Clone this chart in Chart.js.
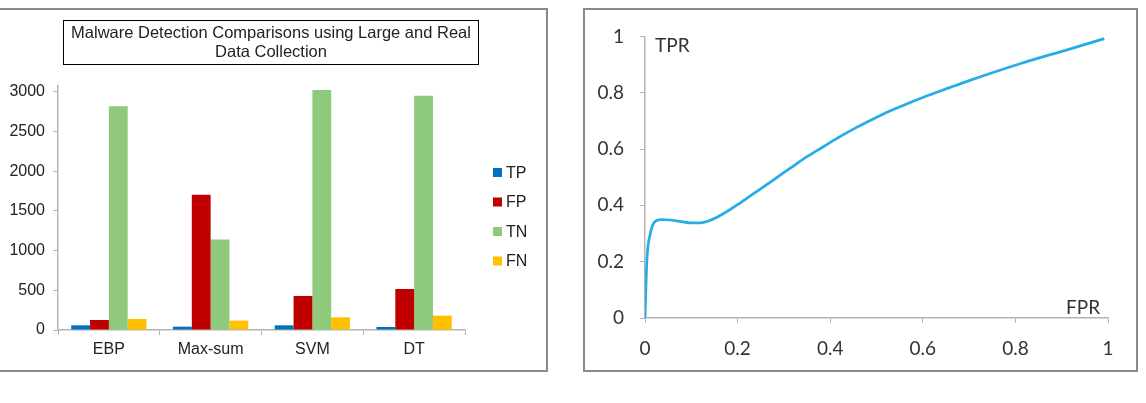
<!DOCTYPE html>
<html>
<head>
<meta charset="utf-8">
<script src="https://cdn.jsdelivr.net/npm/chart.js@4.4.0/dist/chart.umd.min.js"></script>
<style>
  html, body { margin: 0; padding: 0; background: #fff; }
  body { width: 1146px; height: 403px; position: relative; overflow: hidden; }
  .panel { position: absolute; border: 2px solid #8a8a8a; box-sizing: border-box; }
  #leftPanel { left: -2px; top: 8px; width: 550px; height: 364px; }
  #rightPanel { left: 583px; top: 8px; width: 555px; height: 364px; }
  #leftWrap { position: absolute; left: 0; top: 0; width: 548px; height: 372px; }
  #rightWrap { position: absolute; left: 584px; top: 9px; width: 552px; height: 361px; }
  .title-box {
    position: absolute; left: 63px; top: 20px; width: 416px; height: 45px;
    border: 1.5px solid #000; box-sizing: border-box; padding-top: 2px;
    font: 16.5px "Liberation Sans", Arial, sans-serif; line-height: 19px;
    text-align: center; color: #222;
  }
  .axis-note { position: absolute; font: 19px Lato, sans-serif; line-height: 19px; color: #333; }
</style>
</head>
<body>
<div class="panel" id="leftPanel"></div>
<div class="panel" id="rightPanel"></div>
<div id="leftWrap"><canvas id="barCanvas"></canvas></div>
<div id="rightWrap"><canvas id="rocCanvas"></canvas></div>
<div class="title-box">Malware Detection Comparisons using Large and Real<br>Data Collection</div>
<div class="axis-note" style="left:655px;top:35px;">TPR</div>
<div class="axis-note" style="left:1066px;top:297px;">FPR</div>

<script>
// left chart: counts per method
const categories = ['EBP', 'Max-sum', 'SVM', 'DT'];
const tpValues = [59, 42, 59, 38];
const fpValues = [126, 1706, 429, 517];
const tnValues = [2821, 1139, 3026, 2951];
const fnValues = [139, 118, 160, 181];
const countTicks = [0, 500, 1000, 1500, 2000, 2500, 3000];

// right chart: ROC curve
const fprValues = [0, 0.004, 0.011, 0.022, 0.036, 0.054, 0.075, 0.097, 0.12, 0.14, 0.169, 0.205,
  0.241, 0.277, 0.313, 0.349, 0.385, 0.421, 0.457, 0.493, 0.529, 0.565, 0.60, 0.658, 0.70,
  0.81, 0.917, 0.992];
const tprValues = [0, 0.202, 0.296, 0.343, 0.349, 0.348, 0.343, 0.338, 0.338, 0.346, 0.370, 0.408,
  0.449, 0.490, 0.531, 0.572, 0.608, 0.644, 0.677, 0.707, 0.735, 0.760, 0.783, 0.818, 0.843,
  0.903, 0.955, 0.992];
const rateTicks = [0, 0.2, 0.4, 0.6, 0.8, 1];

const ARIAL = '"Liberation Sans", Arial, sans-serif';
const AXIS_GREY = '#b4b4b4';

// legend on the right of the bar chart, Excel style
const sideLegend = {
  id: 'sideLegend',
  afterDraw(chart) {
    const { ctx, chartArea } = chart;
    const x = chartArea.right + 28;
    ctx.save();
    ctx.font = '16px ' + ARIAL;
    ctx.textBaseline = 'middle';
    chart.data.datasets.forEach((ds, i) => {
      const y = chartArea.top + 86.5 + i * 29.5;
      ctx.fillStyle = ds.backgroundColor;
      ctx.fillRect(x, y - 4.5, 9, 9);
      ctx.fillStyle = '#222';
      ctx.fillText(ds.label, x + 13, y + 1);
    });
    ctx.restore();
  }
};

const barChart = new Chart(document.getElementById('barCanvas'), {
  type: 'bar',
  data: {
    labels: categories,
    datasets: [
      { label: 'TP', data: tpValues, backgroundColor: '#0070c0' },
      { label: 'FP', data: fpValues, backgroundColor: '#c00000' },
      { label: 'TN', data: tnValues, backgroundColor: '#8fc97b' },
      { label: 'FN', data: fnValues, backgroundColor: '#ffc000' }
    ]
  },
  options: {
    responsive: true,
    maintainAspectRatio: false,
    animation: false,
    datasets: { bar: { categoryPercentage: 0.74, barPercentage: 1.0 } },
    layout: { padding: { top: 86, right: 83, left: 0, bottom: 0 } },
    plugins: { legend: { display: false }, tooltip: { enabled: false } },
    scales: {
      x: {
        afterFit: s => { s.height = 42; },
        grid: { drawOnChartArea: false, tickLength: 5, color: AXIS_GREY },
        border: { color: AXIS_GREY, width: 1.5 },
        ticks: { color: '#222', padding: 5, font: { family: ARIAL, size: 16 } }
      },
      y: {
        min: 0,
        max: 3075,
        afterFit: s => { s.width = 58; },
        afterBuildTicks: s => { s.ticks = countTicks.map(v => ({ value: v })); },
        grid: { drawOnChartArea: false, tickLength: 5, color: AXIS_GREY },
        border: { color: AXIS_GREY, width: 1.5 },
        ticks: {
          color: '#222', padding: 8, font: { family: ARIAL, size: 16 },
          callback: v => String(v)
        }
      }
    }
  },
  plugins: [sideLegend]
});

const rocChart = new Chart(document.getElementById('rocCanvas'), {
  type: 'line',
  data: {
    datasets: [{
      label: 'ROC',
      data: fprValues.map((f, i) => ({ x: f, y: tprValues[i] })),
      borderColor: '#27ade6',
      borderWidth: 2.75,
      pointRadius: 0,
      fill: false,
      cubicInterpolationMode: 'monotone'
    }]
  },
  options: {
    responsive: true,
    maintainAspectRatio: false,
    animation: false,
    layout: { padding: { top: 24, right: 28, left: 0, bottom: 0 } },
    plugins: { legend: { display: false }, tooltip: { enabled: false } },
    scales: {
      x: {
        type: 'linear',
        min: 0,
        max: 1,
        afterFit: s => { s.height = 52; },
        afterBuildTicks: s => { s.ticks = rateTicks.map(v => ({ value: v })); },
        grid: { drawOnChartArea: false, tickLength: 5, color: AXIS_GREY },
        border: { color: AXIS_GREY, width: 1.5 },
        ticks: {
          color: '#333', padding: 14, font: { family: 'Lato', size: 19 },
          callback: v => String(Number(v.toFixed(1)))
        }
      },
      y: {
        min: 0,
        max: 1,
        afterFit: s => { s.width = 61; },
        afterBuildTicks: s => { s.ticks = rateTicks.map(v => ({ value: v })); },
        grid: { drawOnChartArea: false, tickLength: 5, color: AXIS_GREY },
        border: { color: AXIS_GREY, width: 1.5 },
        ticks: {
          color: '#333', padding: 16, font: { family: 'Lato', size: 19 },
          callback: v => String(Number(v.toFixed(1)))
        }
      }
    }
  }
});
</script>
</body>
</html>
